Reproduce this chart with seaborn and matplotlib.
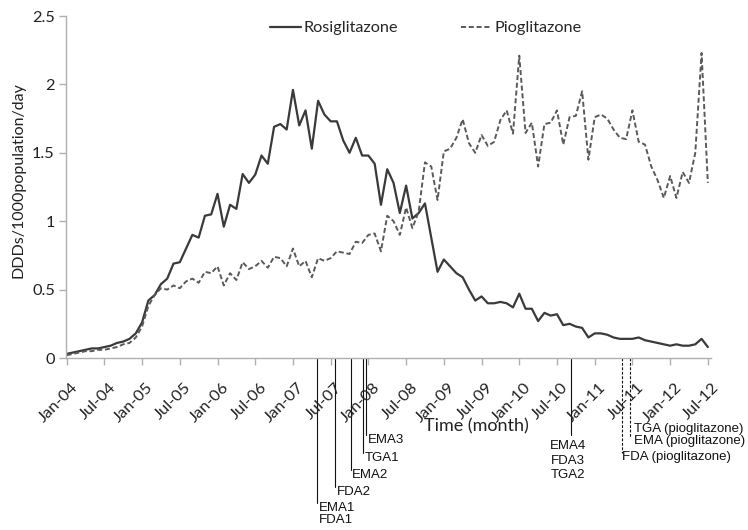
import numpy as np
import pandas as pd
import matplotlib
matplotlib.use("Agg")
import matplotlib.pyplot as plt
import matplotlib.transforms as mtransforms
from matplotlib.lines import Line2D
import seaborn as sns

# ---------------- data ----------------
months = list(range(103))  # Jan-04 ... Jul-12, monthly
tick_labels = ["Jan-04", "Jul-04", "Jan-05", "Jul-05", "Jan-06", "Jul-06",
               "Jan-07", "Jul-07", "Jan-08", "Jul-08", "Jan-09", "Jul-09",
               "Jan-10", "Jul-10", "Jan-11", "Jul-11", "Jan-12", "Jul-12"]

rosiglitazone = [0.03, 0.04, 0.05, 0.06, 0.07, 0.07, 0.08, 0.09, 0.11, 0.12,
                 0.14, 0.18, 0.26, 0.42, 0.46, 0.54, 0.58, 0.69, 0.70, 0.80,
                 0.90, 0.88, 1.04, 1.05, 1.20, 0.96, 1.12, 1.09, 1.345, 1.28,
                 1.34, 1.48, 1.42, 1.69, 1.71, 1.67, 1.96, 1.70, 1.81, 1.53,
                 1.88, 1.78, 1.73, 1.73, 1.59, 1.50, 1.61, 1.48, 1.48, 1.42,
                 1.12, 1.38, 1.28, 1.06, 1.26, 1.02, 1.06, 1.13, 0.88, 0.63,
                 0.72, 0.67, 0.62, 0.59, 0.50, 0.42, 0.45, 0.40, 0.40, 0.41,
                 0.40, 0.37, 0.47, 0.36, 0.36, 0.27, 0.33, 0.31, 0.32, 0.24,
                 0.25, 0.23, 0.22, 0.15, 0.18, 0.18, 0.17, 0.15, 0.14, 0.14,
                 0.14, 0.15, 0.13, 0.12, 0.11, 0.10, 0.09, 0.10, 0.09, 0.09,
                 0.10, 0.14, 0.08]

pioglitazone = [0.02, 0.03, 0.04, 0.05, 0.05, 0.06, 0.06, 0.07, 0.08, 0.10,
                0.11, 0.15, 0.23, 0.38, 0.46, 0.51, 0.50, 0.53, 0.51, 0.56,
                0.58, 0.55, 0.63, 0.62, 0.67, 0.53, 0.62, 0.57, 0.70, 0.65,
                0.67, 0.71, 0.66, 0.74, 0.73, 0.67, 0.80, 0.67, 0.71, 0.59,
                0.73, 0.71, 0.73, 0.78, 0.77, 0.76, 0.85, 0.84, 0.90, 0.91,
                0.78, 1.04, 1.00, 0.90, 1.10, 0.95, 1.07, 1.43, 1.40, 1.155,
                1.51, 1.53, 1.61, 1.745, 1.57, 1.50, 1.63, 1.55, 1.58, 1.74,
                1.81, 1.64, 2.21, 1.645, 1.72, 1.40, 1.71, 1.72, 1.81, 1.56,
                1.76, 1.77, 1.95, 1.45, 1.76, 1.78, 1.75, 1.67, 1.61, 1.60,
                1.81, 1.58, 1.56, 1.40, 1.30, 1.17, 1.33, 1.17, 1.36, 1.28,
                1.50, 2.23, 1.28]

# regulatory events (month index since Jan-04)
rosi_event_months = [39.9, 42.7, 45.2, 47.1, 47.7, 80.3]
rosi_event_labels = ["EMA1\nFDA1", "FDA2", "EMA2", "TGA1", "EMA3", "EMA4\nFDA3\nTGA2"]
pio_event_months = [88.3, 89.6]
pio_event_labels = ["FDA (pioglitazone)", "TGA (pioglitazone)\nEMA (pioglitazone)"]

# ---------------- figure ----------------
sns.set_theme(style="white")
plt.rcParams["font.family"] = ["Lato", "DejaVu Sans"]

W, H = 748, 530
fig = plt.figure(figsize=(W / 100, H / 100), dpi=100)
ax_left, ax_right, ax_top, ax_bot = 66, 711, 16, 358
ax = fig.add_axes([ax_left / W, 1 - ax_bot / H, (ax_right - ax_left) / W, (ax_bot - ax_top) / H])

df = pd.DataFrame({
    "month": months * 2,
    "value": rosiglitazone + pioglitazone,
    "drug": ["Rosiglitazone"] * len(months) + ["Pioglitazone"] * len(months),
})
sns.lineplot(data=df, x="month", y="value", hue="drug", style="drug",
             palette={"Rosiglitazone": "#3a3a3a", "Pioglitazone": "#5a5a5a"},
             dashes={"Rosiglitazone": "", "Pioglitazone": (2.6, 1.4)},
             size="drug", sizes={"Rosiglitazone": 1.6, "Pioglitazone": 1.4},
             ax=ax, legend=False)

ax.set_xlim(-0.1, 102.5)
ax.set_ylim(0, 2.5)
ax.set_yticks([0, 0.5, 1, 1.5, 2, 2.5])
ax.set_yticklabels(["0", "0.5", "1", "1.5", "2", "2.5"], fontsize=11.8, color="#222222")
ax.set_xticks(list(range(0, 103, 6)))
ax.tick_params(axis="both", which="both", length=5, width=1, color="#b0b0b0",
               direction="out", bottom=True, left=True, pad=3)
ax.tick_params(axis="x", labelbottom=False)
# rotated month labels, anchored like the original (spreadsheet style)
for m, lab in zip(ax.get_xticks(), tick_labels):
    ax.annotate(lab, xy=(m, 0), xycoords=("data", "axes fraction"),
                xytext=(6.6, -19.8), textcoords="offset points",
                rotation=45, ha="right", va="center", rotation_mode="anchor",
                fontsize=11.8, color="#222222", annotation_clip=False)
for s in ["top", "right"]:
    ax.spines[s].set_visible(False)
for s in ["left", "bottom"]:
    ax.spines[s].set_color("#b0b0b0")
    ax.spines[s].set_linewidth(1.0)
ax.set_xlabel("")
ax.set_ylabel("DDDs/1000population/day", fontsize=11.5, color="#222222")
ax.yaxis.set_label_coords((26 - ax_left) / (ax_right - ax_left),
                          (ax_bot - 180) / (ax_bot - ax_top))
ax.grid(False)

fig.text(476.7 / W, 1 - 426 / H, "Time (month)", fontsize=13, ha="center", va="center",
         color="#222222")

# legend
handles = [Line2D([], [], color="#3a3a3a", lw=1.6),
           Line2D([], [], color="#5a5a5a", lw=1.4, dashes=(2.6, 1.4))]
ax.legend(handles, ["Rosiglitazone", "Pioglitazone"], ncol=2, frameon=False,
          loc="center left", bbox_to_anchor=((270 - ax_left) / (ax_right - ax_left),
                                             (ax_bot - 28) / (ax_bot - ax_top)),
          fontsize=11.7, handlelength=1.9, handletextpad=0.15, columnspacing=3.9,
          borderaxespad=0, borderpad=0)

# event markers below the axis
trans = mtransforms.blended_transform_factory(ax.transData, ax.transAxes)
def yfrac(py):
    return (ax_bot - py) / (ax_bot - ax_top)

rosi_ends = [503, 487, 470, 453, 435, 435]
for m, lab, pe in zip(rosi_event_months, rosi_event_labels, rosi_ends):
    ax.plot([m, m], [0, yfrac(pe)], transform=trans, clip_on=False,
            color="#111111", lw=0.8)
for m, lab, pe in zip(rosi_event_months[:5], rosi_event_labels[:5], rosi_ends[:5]):
    ax.text(m + 0.25, yfrac(pe - 1), lab, transform=trans, ha="left", va="top",
            fontsize=9.5, family="Liberation Sans", linespacing=1.0, color="#111111")
ax.text(rosi_event_months[5] - 0.6, yfrac(440), rosi_event_labels[5], transform=trans,
        ha="center", va="top", fontsize=9.5, family="Liberation Sans",
        linespacing=1.3, color="#111111")

pio_ends = [453, 437]
for m, pe in zip(pio_event_months, pio_ends):
    ax.plot([m, m], [0, yfrac(pe)], transform=trans, clip_on=False,
            color="#111111", lw=0.8, dashes=(2.5, 1.5))
ax.text(pio_event_months[0] + 0.1, yfrac(451), pio_event_labels[0], transform=trans,
        ha="left", va="top", fontsize=9.5, family="Liberation Sans", color="#111111")
ax.text(pio_event_months[1] + 0.6, yfrac(423), pio_event_labels[1], transform=trans,
        ha="left", va="top", fontsize=9.5, family="Liberation Sans",
        linespacing=1.0, color="#111111")

fig.savefig("out.png", dpi=100)
